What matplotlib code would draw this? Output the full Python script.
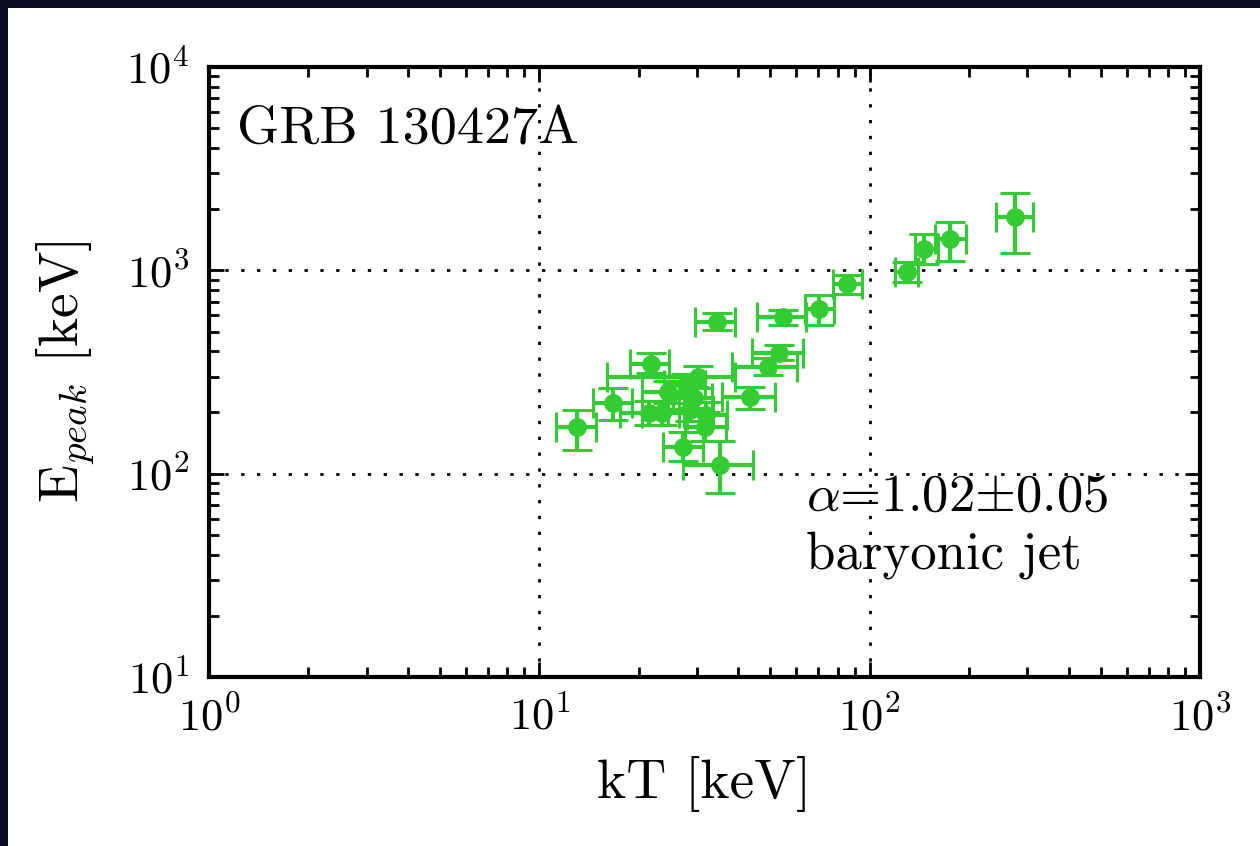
import matplotlib
matplotlib.use("Agg")
import matplotlib.pyplot as plt
from matplotlib.patches import Rectangle
import numpy as np

plt.rcParams['font.family'] = 'serif'
plt.rcParams['font.serif'] = ['cmr10']
plt.rcParams['mathtext.fontset'] = 'cm'
plt.rcParams['axes.formatter.use_mathtext'] = True

# kT [keV] with lower / upper errors
kT = [13.0, 16.7, 21.8, 21.5, 23.5, 24.5, 27.8, 28.6, 29.4, 30.2, 27.2, 31.7, 32.0,
      35.2, 43.4, 49.2, 53.2, 34.5, 54.7, 70.3, 85.4, 130, 146, 175, 275]
kT_lo = [1.8, 2.2, 3.0, 4.0, 3.0, 4.0, 4.0, 4.0, 4.0, 14.2, 3.5, 4.0, 4.0,
         8.0, 7.7, 10.9, 9.2, 4.9, 9.1, 6.6, 7.9, 11, 9, 17, 34]
kT_hi = [1.85, 2.4, 2.9, 5.0, 4.0, 5.0, 4.0, 5.0, 4.0, 8.9, 4.0, 5.0, 5.0,
         9.0, 8.3, 11.1, 9.7, 4.6, 9.5, 7.7, 9.4, 10, 15, 21, 37]

# Epeak [keV] with lower / upper errors
Ep = [170, 223, 347, 199, 199, 252, 273, 206, 236, 299, 135, 170, 194,
      110, 238, 335, 392, 557, 590, 646, 858, 982, 1274, 1427, 1832]
Ep_lo = [39, 39, 34, 25, 25, 30, 30, 25, 25, 35, 20, 25, 25,
         30, 30, 30, 30, 48, 50, 108, 92, 110, 200, 320, 614]
Ep_hi = [36, 41, 45, 30, 30, 35, 35, 30, 30, 40, 25, 30, 30,
         35, 30, 35, 35, 60, 50, 111, 91, 120, 230, 300, 571]

fig = plt.figure(figsize=(12.6, 8.46), dpi=100)
fig.patch.set_facecolor('#0b0b22')
fig.patches.append(Rectangle((8/1260, 0), 1, 1 - 8/846, transform=fig.transFigure,
                             facecolor='white', edgecolor='none', zorder=-10))

ax = fig.add_axes([209/1260, 1 - 677/846, 991/1260, 610/846])
green = '#33cc33'
ax.errorbar(kT, Ep, xerr=[kT_lo, kT_hi], yerr=[Ep_lo, Ep_hi], fmt='o', color=green,
            ms=12.5, elinewidth=3, capsize=11, capthick=2.2, zorder=3)

ax.set_xscale('log')
ax.set_yscale('log')
ax.set_xlim(1, 1000)
ax.set_ylim(10, 10000)
ax.grid(True, which='major', color='k', linestyle=(0, (1.2, 4.5)), linewidth=2)

for s in ax.spines.values():
    s.set_linewidth(3)
ax.tick_params(which='both', direction='in', top=True, right=True, labelsize=32)
ax.tick_params(which='major', length=11, width=2, pad=14)
ax.tick_params(which='minor', length=7, width=2)

ax.set_xlabel('kT [keV]', fontsize=40, labelpad=12)
ax.set_ylabel(r'E$_{peak}$ [keV]', fontsize=40, labelpad=22)

ax.text(0.028, 0.935, 'GRB 130427A', transform=ax.transAxes, fontsize=39,
        ha='left', va='top')
ax.text(0.602, 0.295, r'$\alpha$=1.02$\pm$0.05', transform=ax.transAxes, fontsize=38,
        ha='left', va='center')
ax.text(0.602, 0.200, 'baryonic jet', transform=ax.transAxes, fontsize=38,
        ha='left', va='center')

fig.savefig('out.png', dpi=100, facecolor=fig.get_facecolor())
